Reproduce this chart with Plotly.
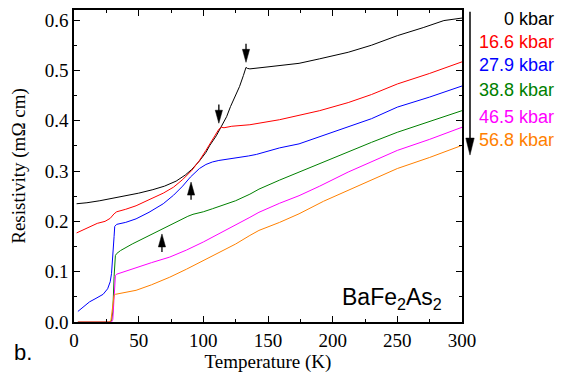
import plotly.graph_objects as go

# ---- data ----
labels = ["0 kbar", "16.6 kbar", "27.9 kbar", "38.8 kbar", "46.5 kbar", "56.8 kbar"]
colors = ["#000000", "#ff0000", "#0000ff", "#008000", "#ff00ff", "#ff8000"]

t_0 = [2, 10, 20, 35, 50, 61, 70, 79, 86, 91, 97, 102, 105, 110, 114, 118, 121, 125, 128, 131, 133,
       134, 136, 150, 159, 174, 190, 212, 230, 250, 270, 286, 300]
r_0 = [0.235, 0.237, 0.241, 0.248, 0.256, 0.263, 0.270, 0.280, 0.292, 0.303, 0.320, 0.337, 0.351, 0.370,
       0.388, 0.408, 0.428, 0.452, 0.468, 0.490, 0.506, 0.504, 0.503, 0.507, 0.510, 0.514, 0.523, 0.536,
       0.550, 0.569, 0.585, 0.599, 0.604]

t_166 = [2, 10, 18, 24, 28, 31, 33, 40, 48, 58, 69, 77, 84, 91, 97, 102, 107, 112, 114, 116, 122, 130,
         136, 159, 174, 190, 212, 230, 250, 275, 300]
r_166 = [0.177, 0.187, 0.196, 0.200, 0.206, 0.215, 0.219, 0.224, 0.231, 0.243, 0.256, 0.268, 0.283, 0.301,
         0.321, 0.341, 0.362, 0.383, 0.387, 0.386, 0.389, 0.391, 0.392, 0.402, 0.410, 0.420, 0.436, 0.452,
         0.473, 0.494, 0.517]

t_279 = [3, 8, 12, 17, 22.5, 26, 28, 29, 30, 31, 31.5, 33, 40, 48, 58, 69, 77, 84, 90, 97, 102, 107, 112,
         118, 125, 135, 141, 159, 174, 190, 212, 230, 250, 275, 300]
r_279 = [0.021, 0.032, 0.040, 0.047, 0.055, 0.066, 0.080, 0.096, 0.125, 0.170, 0.190, 0.194, 0.198, 0.205,
         0.218, 0.235, 0.252, 0.270, 0.288, 0.305, 0.313, 0.318, 0.321, 0.323, 0.326, 0.330, 0.333, 0.346,
         0.354, 0.368, 0.387, 0.404, 0.427, 0.447, 0.469]

t_388 = [3, 10, 20, 27, 29, 30, 31, 32, 33, 36, 45, 55, 61, 68, 74, 82, 88, 92, 100, 107, 115, 125, 136,
         143, 159, 174, 190, 212, 230, 250, 275, 300]
r_388 = [0.0, 0.0, 0.0, 0.0, 0.002, 0.02, 0.09, 0.132, 0.136, 0.142, 0.155, 0.168, 0.175, 0.184, 0.192,
         0.203, 0.210, 0.214, 0.219, 0.225, 0.232, 0.241, 0.254, 0.264, 0.282, 0.298, 0.314, 0.338, 0.357,
         0.377, 0.398, 0.420]

t_465 = [3, 10, 20, 27, 29, 30, 31, 32, 33, 40, 48, 60, 74, 87, 100, 112, 125, 136, 143, 159, 174, 190,
         212, 230, 250, 275, 300]
r_465 = [0.0, 0.0, 0.0, 0.0, 0.0, 0.005, 0.04, 0.092, 0.095, 0.101, 0.109, 0.118, 0.129, 0.143, 0.159,
         0.175, 0.192, 0.208, 0.218, 0.236, 0.251, 0.270, 0.298, 0.318, 0.341, 0.363, 0.387]

t_568 = [3, 10, 20, 27, 28.5, 29.5, 30.5, 31, 32, 40, 48, 60, 74, 87, 100, 112, 125, 136, 143, 159, 174,
         193, 212, 230, 250, 275, 300]
r_568 = [0.0, 0.0, 0.0, 0.0, 0.002, 0.02, 0.045, 0.053, 0.055, 0.059, 0.063, 0.074, 0.089, 0.105, 0.122,
         0.138, 0.155, 0.172, 0.182, 0.198, 0.215, 0.240, 0.262, 0.283, 0.305, 0.327, 0.351]

temps = [t_0, t_166, t_279, t_388, t_465, t_568]
rhos = [r_0, r_166, r_279, r_388, r_465, r_568]

# transition markers
down_arrows_T = [133, 112]
down_arrows_tip = [0.516, 0.395]
down_arrows_tail = [0.553, 0.432]
up_arrows_T = [90.5, 68]
up_arrows_tip = [0.278, 0.175]
up_arrows_tail = [0.243, 0.139]

x_ticks = [0, 50, 100, 150, 200, 250, 300]
y_ticks = [0.0, 0.1, 0.2, 0.3, 0.4, 0.5, 0.6]

SERIF = "Liberation Serif"
SANS = "Liberation Sans"

fig = go.Figure()
for t, r, c, lab in zip(temps, rhos, colors, labels):
    fig.add_trace(go.Scatter(x=t, y=r, mode="lines", line=dict(color=c, width=1.0),
                             name=lab, showlegend=False, hoverinfo="skip"))

shapes = []
for T, tip, tail in zip(down_arrows_T, down_arrows_tip, down_arrows_tail):
    shapes.append(dict(type="line", xref="x", yref="y", x0=T, x1=T, y0=tail, y1=tip + 0.015,
                       line=dict(color="black", width=1.3)))
    shapes.append(dict(type="path", xref="x", yref="y", xsizemode="pixel", ysizemode="pixel",
                       xanchor=T, yanchor=tip, path="M0,0 L-3.6,13 L3.6,13 Z",
                       fillcolor="black", line=dict(color="black", width=0.5)))
for T, tip, tail in zip(up_arrows_T, up_arrows_tip, up_arrows_tail):
    shapes.append(dict(type="line", xref="x", yref="y", x0=T, x1=T, y0=tail, y1=tip - 0.015,
                       line=dict(color="black", width=1.3)))
    shapes.append(dict(type="path", xref="x", yref="y", xsizemode="pixel", ysizemode="pixel",
                       xanchor=T, yanchor=tip, path="M0,0 L-3.6,-13 L3.6,-13 Z",
                       fillcolor="black", line=dict(color="black", width=0.5)))
# big pressure arrow on the right
shapes.append(dict(type="line", xref="paper", yref="paper", x0=1.0206, x1=1.0206, y0=0.994, y1=0.56,
                   line=dict(color="black", width=1.5)))
shapes.append(dict(type="path", xref="paper", yref="paper", xsizemode="pixel", ysizemode="pixel",
                   xanchor=1.0206, yanchor=0.535, path="M0,0 L-4.2,17 L4.2,17 Z",
                   fillcolor="black", line=dict(color="black", width=0.5)))

annotations = []
label_y = [0.971, 0.897, 0.824, 0.744, 0.657, 0.583]
for lab, c, yy in zip(labels, colors, label_y):
    annotations.append(dict(text=lab, xref="paper", yref="paper", x=1.2416, y=yy,
                            xanchor="right", yanchor="middle", showarrow=False,
                            font=dict(family=SANS, size=18, color=c)))
annotations.append(dict(text="BaFe<sub>2</sub>As<sub>2</sub>", xref="x", yref="y", x=286, y=0.047,
                        xanchor="right", yanchor="middle", showarrow=False,
                        font=dict(family=SANS, size=23, color="black")))
annotations.append(dict(text="b.", xref="paper", yref="paper", x=-0.16, y=-0.099,
                        xanchor="left", yanchor="middle", showarrow=False,
                        font=dict(family=SANS, size=22, color="black")))

axis_common = dict(showline=True, linecolor="black", linewidth=1.5, mirror="ticks",
                   ticks="inside", ticklen=6, tickwidth=1.2, tickcolor="black",
                   showgrid=False, zeroline=False, automargin=False,
                   tickfont=dict(family=SERIF, size=19, color="black"))

fig.update_layout(
    width=570, height=373,
    margin=dict(l=74, r=108, t=10, b=51),
    paper_bgcolor="white", plot_bgcolor="white",
    showlegend=False,
    shapes=shapes, annotations=annotations,
    xaxis=dict(range=[0, 300], tickvals=x_ticks, ticktext=[str(v) for v in x_ticks],
               minor=dict(ticks="inside", ticklen=3.5, tickwidth=1.2, tickcolor="black", dtick=25),
               title=dict(text="Temperature (K)", font=dict(family=SERIF, size=19, color="black"),
                          standoff=2),
               **axis_common),
    yaxis=dict(range=[0, 0.62], tickvals=y_ticks, ticktext=[f"{v:.1f}" for v in y_ticks],
               minor=dict(ticks="inside", ticklen=3.5, tickwidth=1.2, tickcolor="black", dtick=0.05),
               title=dict(text="Resistivity (mΩ cm)", font=dict(family=SERIF, size=19, color="black"),
                          standoff=14),
               **axis_common),
)

fig.write_html("out.html", config={"displayModeBar": False},
               post_script="document.body.style.margin='0';document.body.style.padding='0';")
